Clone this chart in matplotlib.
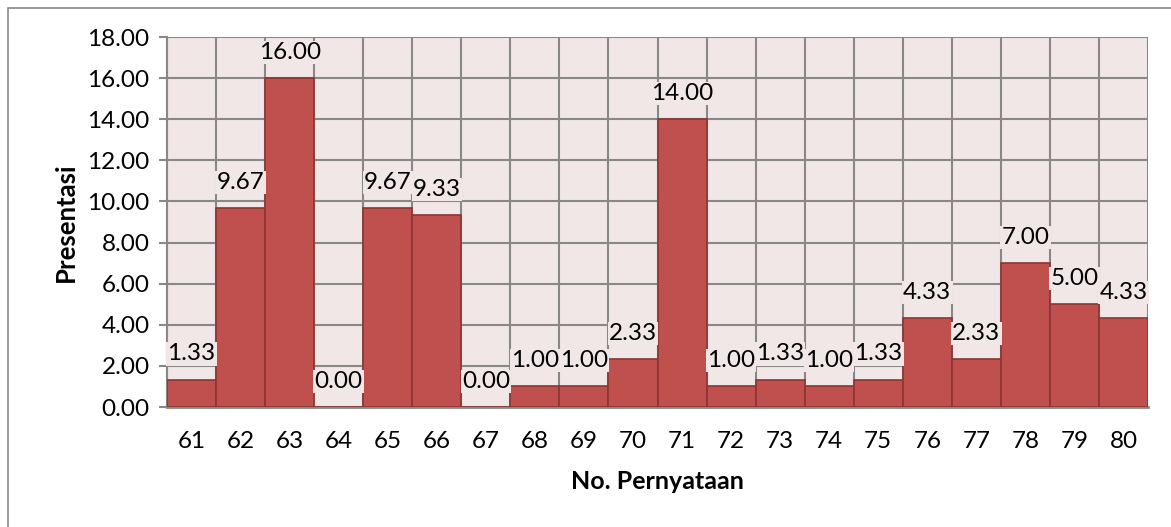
import matplotlib
matplotlib.use("Agg")
import matplotlib.pyplot as plt
from matplotlib.patches import Rectangle
from matplotlib.ticker import FormatStrFormatter, MultipleLocator

# data
items = list(range(61, 81))
values = [1.33, 9.67, 16.00, 0.00, 9.67, 9.33, 0.00, 1.00, 1.00, 2.33,
          14.00, 1.00, 1.33, 1.00, 1.33, 4.33, 2.33, 7.00, 5.00, 4.33]

plt.rcParams['font.family'] = ['Lato', 'DejaVu Sans']

bg = '#F2E7E7'
grid_c = '#888888'

fig = plt.figure(figsize=(11.71, 5.27), dpi=100)
ax = fig.add_axes([167/1171, 1-407/527, (1148-167)/1171, (407-37)/527])
ax.set_facecolor(bg)

x = list(range(len(items)))
ax.bar(x, values, width=1.0, color='#C0504D', edgecolor='#8B3533',
       linewidth=1.2, zorder=3)

ax.set_xlim(-0.5, len(items) - 0.5)
ax.set_ylim(0, 18)
ax.yaxis.set_major_locator(MultipleLocator(2))
ax.yaxis.set_major_formatter(FormatStrFormatter('%.2f'))

# vertical grid at category boundaries
for b in range(len(items) + 1):
    ax.axvline(b - 0.5, color=grid_c, lw=1.5, zorder=1)
ax.yaxis.grid(True, color=grid_c, lw=1.5, zorder=1)
ax.set_axisbelow(True)

ax.set_xticks(x)
ax.set_xticklabels([str(i) for i in items])
ax.tick_params(axis='x', length=0, pad=17, labelsize=17.5)
ax.tick_params(axis='y', length=5.5, width=1.5, color=grid_c, direction='out',
               labelsize=17.5, pad=7)

for s in ['top', 'right']:
    ax.spines[s].set_visible(False)
ax.spines['left'].set_color(grid_c)
ax.spines['left'].set_linewidth(1.5)
ax.spines['bottom'].set_color(grid_c)
ax.spines['bottom'].set_linewidth(2)

for xi, v in zip(x, values):
    ax.annotate(f'{v:.2f}', (xi, v), xytext=(0, 11), textcoords='offset points',
                ha='center', va='bottom', fontsize=17.5, zorder=4,
                bbox=dict(boxstyle='square,pad=0.05', fc=bg, ec='none'))

ax.set_xlabel('No. Pernyataan', fontsize=18, fontweight='bold', labelpad=13)
ax.set_ylabel('Presentasi', fontsize=18.5, fontweight='bold', labelpad=7)

# outer chart border
fig.patches.append(Rectangle((8/1171, -0.05), 1.2, 1 - 8/527 + 0.05,
                             transform=fig.transFigure, fill=False,
                             ec='#888888', lw=1.2))

fig.savefig('out.png', dpi=100)
